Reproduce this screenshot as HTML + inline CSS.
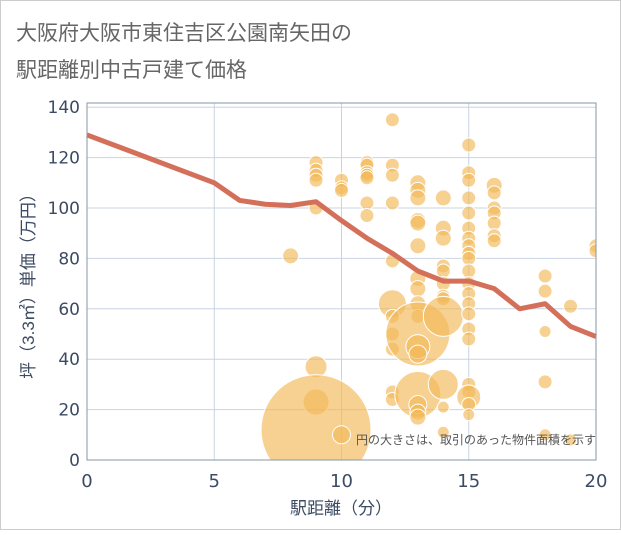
<!DOCTYPE html>
<html><head><meta charset="utf-8"><style>
body{margin:0;background:#fff}
svg text{font-family:"Liberation Sans","Noto Sans CJK JP",sans-serif}
svg text.tk{font-family:"DejaVu Sans",sans-serif}
</style></head><body>
<svg width="621" height="530">
<rect x="0.5" y="0.5" width="620" height="529" fill="#fff" stroke="#ccc"/>
<text x="16" y="40" font-size="21" fill="#666">大阪府大阪市東住吉区公園南矢田の</text>
<text x="16" y="77" font-size="21" fill="#666">駅距離別中古戸建て価格</text>
<g id="grid"></g>
<g id="bubbles"></g>
<g id="line"></g>
<rect x="87" y="103" width="509" height="357" fill="none" stroke="#8a96a6" stroke-width="1"/>
<g id="ticks"></g>
<text x="341" y="514" font-size="17" fill="#3c4b63" text-anchor="middle">駅距離（分）</text>
<text transform="translate(34,282) rotate(-90)" font-size="17" fill="#3c4b63" text-anchor="middle">坪（3.3㎡）単価（万円）</text>
<text x="596" y="444" font-size="12" fill="#555" text-anchor="end">円の大きさは、取引のあった物件面積を示す</text>
</svg>
<script>
const xTicks=[0,5,10,15,20];
const yTicks=[0,20,40,60,80,100,120,140];
const lineX=[0,5,6,7,8,9,10,11,12,13,14,15,16,17,18,19,20];
const lineY=[129,110,103,101.5,101,102.5,95,88,82,75,71,71,68,60,62,53,49];
const bubX=[8,9,9,9,9,9,9,9,9,10,10,10,10,11,11,11,11,11,11,11,12,12,12,12,12,12,12,12,12,12,12,13,13,13,13,13,13,13,13,13,13,13,13,13,13,13,13,13,14,14,14,14,14,14,14,14,14,14,14,14,15,15,15,15,15,15,15,15,15,15,15,15,15,15,15,15,15,15,15,15,15,15,16,16,16,16,16,16,16,18,18,18,18,18,19,19,20,20];
const bubY=[81,118,115,113,111,100,37,23,12,111,108,107,10,118,117,114,113,112,102,97,135,117,113,102,79,62,57,50,44,27,24,110,107,104,95,94,85,72,68,62,57,50,45,42,26,22,19,17,104,92,88,77,75,70,65,64,57,30,21,11,125,114,111,104,98,92,88,85,82,80,75,70,66,62,58,52,48,30,27,25,22,18,109,106,100,98,94,89,87,73,67,51,31,10,61,8,85,83];
const bubR=[8,7,7,7,7,7,11,13,55,7,7,7,9,7,7,7,7,7,7,7,7,7,7,7,7,14,7,7,7,7,7,8,8,8,8,8,8,8,8,8,7,32,12,9,23,9,8,8,8,8,8,7,7,7,7,7,20,15,6,6,7,7,7,7,7,7,7,7,7,7,7,7,7,7,7,7,7,7,7,12,7,6,8,7,7,7,7,7,7,7,7,6,7,6,7,6,7,7];
const NS='http://www.w3.org/2000/svg';
const X=v=>87+v*25.45, Y=v=>460-v*2.52;
function mk(t,a,p){const e=document.createElementNS(NS,t);for(const k in a)e.setAttribute(k,a[k]);p.appendChild(e);return e;}
const grid=document.getElementById('grid'),ticks=document.getElementById('ticks');
xTicks.forEach(t=>{const l=mk('line',{x1:X(t),x2:X(t),y1:103,y2:460,stroke:'#c8d4e2'},grid);


const tx=mk('text',{x:X(t),y:487,'font-size':18,fill:'#3c4b63','text-anchor':'middle','class':'tk'},ticks);tx.textContent=t;

});
yTicks.forEach(t=>{const l=mk('line',{x1:87,x2:596,y1:Y(t),y2:Y(t),stroke:'#c8d4e2'},grid);


const tx=mk('text',{x:80,y:Y(t)+6,'font-size':17,fill:'#3c4b63','text-anchor':'end','class':'tk'},ticks);tx.textContent=t;

});
const bg=document.getElementById('bubbles');
const cp=mk('clipPath',{id:'cp'},bg);mk('rect',{x:87,y:103,width:509,height:357},cp);
bubX.forEach((v,i)=>{const c=mk('circle',{cx:X(v),cy:Y(bubY[i]),r:bubR[i],fill:'#f2b857','fill-opacity':0.65,stroke:'#fff','stroke-width':1,'clip-path':'url(#cp)'},bg);

});
const p=mk('polyline',{points:lineX.map((v,i)=>X(v)+','+Y(lineY[i])).join(' '),fill:'none',stroke:'#d4705a','stroke-width':5,'stroke-linejoin':'round'},document.getElementById('line'));


</script>
</body></html>
